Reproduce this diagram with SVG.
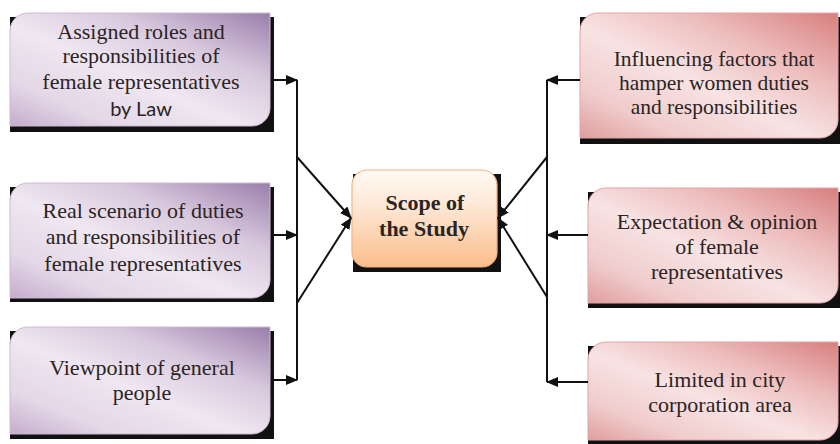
<svg xmlns="http://www.w3.org/2000/svg" width="840" height="444" viewBox="0 0 840 444">
<style>
.t{font-family:"Liberation Serif","Times New Roman",serif;font-size:22px;fill:#2b2424;text-anchor:middle}
.t2{font-family:"Liberation Serif","Times New Roman",serif;font-size:21.5px;fill:#2b2424;text-anchor:middle}
.s{font-family:Lato,"Liberation Sans",sans-serif;font-size:20px;fill:#2b2424;text-anchor:middle}
.b{font-family:"Liberation Serif","Times New Roman",serif;font-size:22px;font-weight:bold;fill:#2b2424;text-anchor:middle}
.sh{fill:#111}
.pb{fill:url(#gp);stroke:#cdbad2;stroke-width:1}
.rb{fill:url(#gr);stroke:#e3a5a5;stroke-width:1}
.ln{stroke:#111;stroke-width:2;fill:none}
</style>
<defs>
<linearGradient id="gp" x1="1" y1="0" x2="0" y2="1">
<stop offset="0" stop-color="#9a7eab"/>
<stop offset="0.3" stop-color="#d8c8dd"/>
<stop offset="0.55" stop-color="#efe7f1"/>
<stop offset="0.8" stop-color="#e4d7e7"/>
<stop offset="1" stop-color="#c4adcc"/>
</linearGradient>
<linearGradient id="gr" x1="1" y1="0" x2="0" y2="1">
<stop offset="0" stop-color="#d77f7e"/>
<stop offset="0.3" stop-color="#edbdbd"/>
<stop offset="0.55" stop-color="#f8e3e3"/>
<stop offset="0.8" stop-color="#f0cccc"/>
<stop offset="1" stop-color="#e09d9d"/>
</linearGradient>
<linearGradient id="go" x1="0" y1="0" x2="0" y2="1">
<stop offset="0" stop-color="#fffaf5"/>
<stop offset="0.4" stop-color="#fde6d2"/>
<stop offset="1" stop-color="#fbbd8a"/>
</linearGradient>
<marker id="ah" viewBox="0 0 12 10" refX="11" refY="5" markerWidth="12" markerHeight="10" markerUnits="userSpaceOnUse" orient="auto">
<path d="M0,0 L12,5 L0,10 Z" fill="#111"/>
</marker>
</defs>

<g id="node-assigned">
<rect class="sh" x="10" y="17" width="264" height="115"/>
<path class="pb" d="M28,13 H270 V108 A18,18 0 0 1 252,126 H10 V31 A18,18 0 0 1 28,13 Z"/>
<text class="t" x="141" y="39">Assigned roles and</text>
<text class="t" x="141" y="63">responsibilities of</text>
<text class="t" x="141" y="89">female representatives</text>
<text class="s" x="141" y="116">by Law</text>
</g>

<g id="node-real">
<rect class="sh" x="10" y="187" width="264" height="115"/>
<path class="pb" d="M28,183 H270 V280 A18,18 0 0 1 252,298 H10 V201 A18,18 0 0 1 28,183 Z"/>
<text class="t" x="143" y="218">Real scenario of duties</text>
<text class="t" x="143" y="244">and responsibilities of</text>
<text class="t" x="143" y="271">female representatives</text>
</g>

<g id="node-viewpoint">
<rect class="sh" x="10" y="331" width="264" height="108"/>
<path class="pb" d="M28,327 H270 V416 A18,18 0 0 1 252,434 H10 V345 A18,18 0 0 1 28,327 Z"/>
<text class="t" x="142" y="375">Viewpoint of general</text>
<text class="t" x="142" y="400">people</text>
</g>

<g id="node-scope">
<rect class="sh" x="353" y="174" width="148" height="98"/>
<rect x="352" y="170" width="145" height="97" rx="15" fill="url(#go)" stroke="#f4b483" stroke-width="1.2"/>
<text class="b" x="425" y="210">Scope of</text>
<text class="b" x="424" y="236">the Study</text>
</g>

<g id="node-influencing">
<rect class="sh" x="580" y="17" width="264" height="127"/>
<path class="rb" d="M598,13 H838 V120 A18,18 0 0 1 820,138 H580 V31 A18,18 0 0 1 598,13 Z"/>
<text class="t2" x="714" y="66">Influencing factors that</text>
<text class="t2" x="714" y="90">hamper women duties</text>
<text class="t2" x="714" y="114">and responsibilities</text>
</g>

<g id="node-expectation">
<rect class="sh" x="588" y="192" width="256" height="116"/>
<path class="rb" d="M606,188 H838 V285 A18,18 0 0 1 820,303 H588 V206 A18,18 0 0 1 606,188 Z"/>
<text class="t" x="717" y="229">Expectation &amp; opinion</text>
<text class="t" x="717" y="254">of female</text>
<text class="t" x="717" y="279">representatives</text>
</g>

<g id="node-limited">
<rect class="sh" x="588" y="346" width="256" height="100"/>
<path class="rb" d="M606,342 H838 V422 A18,18 0 0 1 820,440 H588 V360 A18,18 0 0 1 606,342 Z"/>
<text class="t" x="720" y="387">Limited in city</text>
<text class="t" x="720" y="412">corporation area</text>
</g>

<g id="connectors">
<line class="ln" x1="297" y1="80" x2="297" y2="380"/>
<line class="ln" x1="272" y1="80" x2="297" y2="80" marker-end="url(#ah)"/>
<line class="ln" x1="272" y1="235" x2="297" y2="235" marker-end="url(#ah)"/>
<line class="ln" x1="272" y1="380" x2="297" y2="380" marker-end="url(#ah)"/>
<line class="ln" x1="297" y1="157" x2="351" y2="218" marker-end="url(#ah)"/>
<line class="ln" x1="297" y1="303" x2="351" y2="218" marker-end="url(#ah)"/>
<line class="ln" x1="547" y1="80" x2="547" y2="382"/>
<line class="ln" x1="580" y1="80" x2="547" y2="80" marker-end="url(#ah)"/>
<line class="ln" x1="588" y1="235" x2="547" y2="235" marker-end="url(#ah)"/>
<line class="ln" x1="588" y1="382" x2="547" y2="382" marker-end="url(#ah)"/>
<line class="ln" x1="547" y1="157" x2="498" y2="218" marker-end="url(#ah)"/>
<line class="ln" x1="547" y1="297" x2="498" y2="218" marker-end="url(#ah)"/>
</g>
</svg>
